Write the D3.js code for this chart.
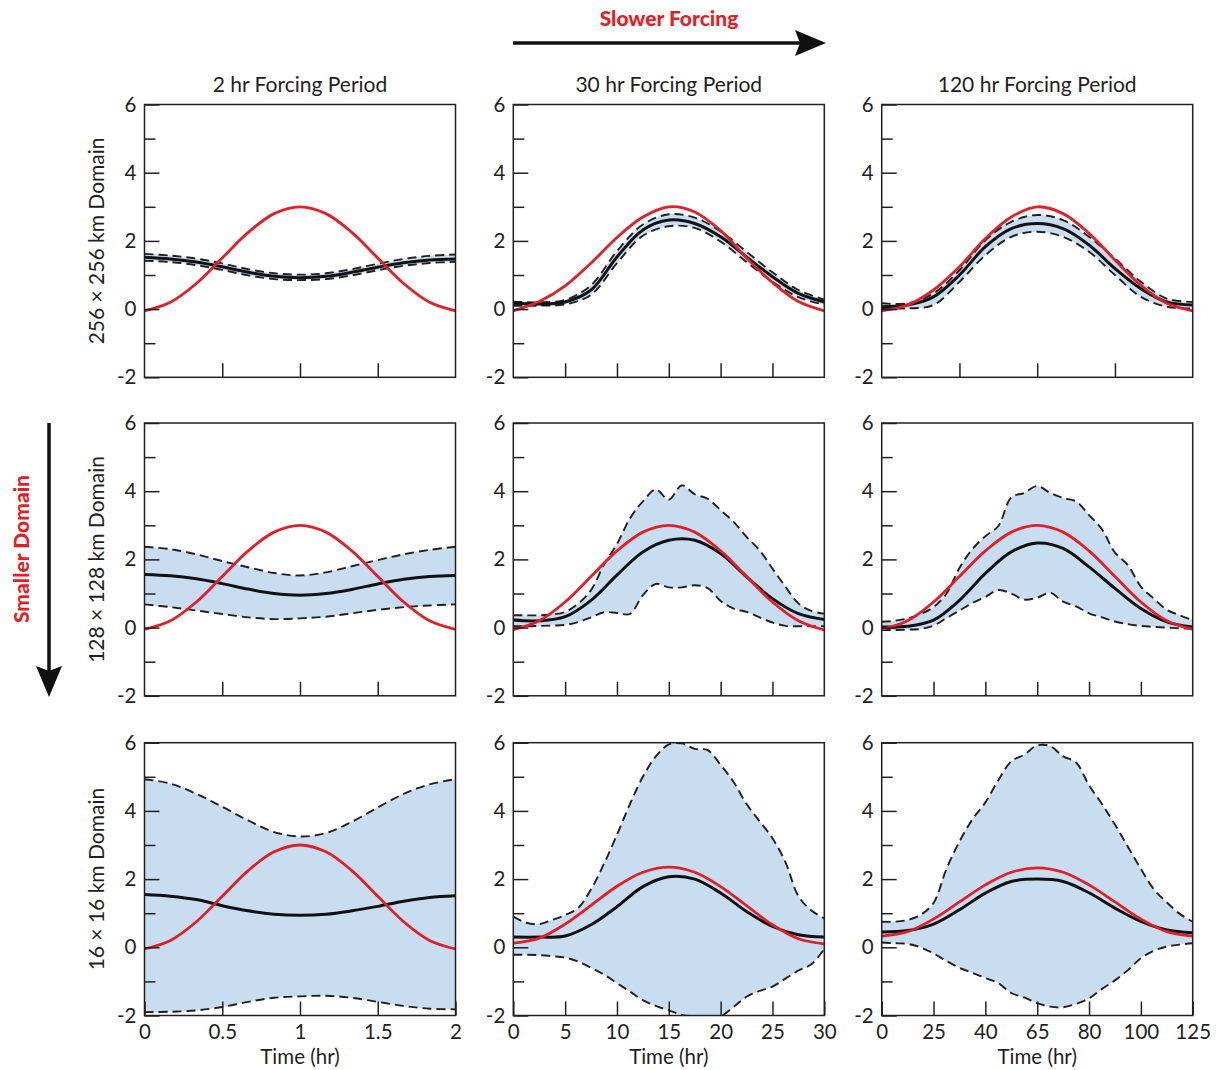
<!DOCTYPE html>
<html>
<head>
<meta charset="utf-8">
<script src="https://cdn.jsdelivr.net/npm/d3@7"></script>
<style>
  body { margin: 0; background: #fff; }
  svg text { font-family: Lato, "Open Sans", sans-serif; fill: #231f20; }
</style>
</head>
<body>
<svg id="chart" width="1218" height="1070"></svg>
<script>
// ---- labels ----
const periodTitles = ['2 hr Forcing Period', '30 hr Forcing Period', '120 hr Forcing Period'];
const domainTitles = ['256 \u00d7 256 km Domain', '128 \u00d7 128 km Domain', '16 \u00d7 16 km Domain'];
const timeMax = [2, 30, 125];
const timeTickLabels = [
  ['0', '0.5', '1', '1.5', '2'],
  ['0', '5', '10', '15', '20', '25', '30'],
  ['0', '25', '40', '65', '80', '100', '125']
];
const yTicksMajor = [-2, 0, 2, 4, 6];
const yTicksMinor = [-1, 1, 3, 5];

// ---- 256 x 256 km ----
const forcing256_2 = [-0.05, 0.2, 0.75, 1.5, 2.25, 2.8, 3.0, 2.8, 2.25, 1.5, 0.75, 0.2, -0.05];
const mean256_2 = [1.52, 1.47, 1.38, 1.24, 1.08, 0.96, 0.92, 0.96, 1.08, 1.23, 1.36, 1.44, 1.47];
const upper256_2 = [1.62, 1.57, 1.48, 1.34, 1.17, 1.05, 1.01, 1.05, 1.17, 1.33, 1.47, 1.56, 1.6];
const lower256_2 = [1.42, 1.38, 1.29, 1.15, 0.99, 0.88, 0.85, 0.88, 0.99, 1.14, 1.27, 1.35, 1.39];

const forcing256_30 = [-0.05, 0.22, 0.68, 1.35, 2.1, 2.7, 3.0, 2.85, 2.3, 1.5, 0.78, 0.22, -0.05];
const mean256_30 = [0.17, 0.15, 0.21, 0.56, 1.53, 2.32, 2.61, 2.51, 2.12, 1.53, 0.95, 0.46, 0.21];
const upper256_30 = [0.22, 0.2, 0.27, 0.7, 1.7, 2.48, 2.78, 2.68, 2.28, 1.68, 1.08, 0.56, 0.28];
const lower256_30 = [0.1, 0.1, 0.14, 0.42, 1.35, 2.15, 2.43, 2.38, 1.98, 1.38, 0.8, 0.35, 0.13];

const forcing256_120 = [-0.05, 0.12, 0.56, 1.24, 2.07, 2.7, 3.0, 2.8, 2.22, 1.44, 0.7, 0.17, -0.05];
const mean256_120 = [0.07, 0.12, 0.36, 1.0, 1.83, 2.36, 2.51, 2.36, 1.88, 1.19, 0.6, 0.21, 0.12];
const upper256_120 = [0.17, 0.17, 0.46, 1.14, 2.02, 2.56, 2.76, 2.61, 2.12, 1.48, 0.8, 0.31, 0.21];
const lower256_120 = [0.02, 0.02, 0.12, 0.8, 1.58, 2.12, 2.27, 2.12, 1.68, 1.0, 0.36, 0.07, 0.02];

// ---- 128 x 128 km ----
const forcing128_2 = [-0.05, 0.2, 0.75, 1.5, 2.25, 2.8, 3.0, 2.8, 2.25, 1.5, 0.75, 0.2, -0.05];
const mean128_2 = [1.56, 1.52, 1.43, 1.29, 1.13, 1.0, 0.95, 1.0, 1.12, 1.28, 1.42, 1.5, 1.53];
const upper128_2 = [2.37, 2.3, 2.15, 1.95, 1.77, 1.6, 1.53, 1.62, 1.8, 1.98, 2.15, 2.28, 2.37];
const lower128_2 = [0.68, 0.6, 0.5, 0.4, 0.3, 0.25, 0.27, 0.32, 0.42, 0.52, 0.6, 0.65, 0.68];

const forcing128_30 = [-0.06, 0.2, 0.75, 1.5, 2.25, 2.8, 3.0, 2.8, 2.25, 1.5, 0.75, 0.2, -0.07];
const mean128_30 = [0.22, 0.2, 0.32, 0.8, 1.54, 2.22, 2.56, 2.56, 2.17, 1.49, 0.85, 0.41, 0.24];
const upper128_30 = [0.36, 0.36, 0.36, 0.39, 0.46, 0.7, 1.1, 1.85, 2.45, 3.2, 3.7, 4.05, 3.75, 4.17,
  3.91, 3.78, 3.44, 3.1, 2.66, 2.27, 1.73, 1.2, 0.71, 0.49, 0.41];
const lower128_30 = [0.04, 0.04, 0.05, 0.06, 0.08, 0.16, 0.3, 0.45, 0.43, 0.4, 0.95, 1.28, 1.18, 1.18,
  1.24, 1.16, 0.78, 0.56, 0.46, 0.3, 0.15, 0.05, 0.04, 0.04, 0.04];

const forcing128_120 = [-0.05, 0.2, 0.75, 1.5, 2.25, 2.8, 3.0, 2.8, 2.25, 1.5, 0.75, 0.2, -0.05];
const mean128_120 = [0.02, 0.04, 0.22, 0.8, 1.59, 2.22, 2.48, 2.32, 1.78, 1.15, 0.56, 0.17, 0.02];
const upper128_120 = [0.17, 0.2, 0.27, 0.4, 0.6, 1.0, 1.75, 2.3, 2.68, 2.98, 3.82, 3.95, 4.15, 3.95,
  3.8, 3.7, 3.3, 2.88, 2.2, 1.83, 1.2, 0.85, 0.52, 0.36, 0.22];
const lower128_120 = [-0.07, -0.07, -0.06, -0.04, 0.06, 0.28, 0.5, 0.72, 0.9, 1.1, 1.0, 0.82, 0.88, 1.02,
  0.76, 0.62, 0.42, 0.3, 0.18, 0.1, 0.05, 0.02, 0.0, -0.02, -0.03];

// ---- 16 x 16 km ----
const forcing16_2 = [-0.05, 0.2, 0.75, 1.5, 2.25, 2.8, 3.0, 2.8, 2.25, 1.5, 0.75, 0.2, -0.05];
const mean16_2 = [1.55, 1.5, 1.4, 1.22, 1.07, 0.97, 0.94, 0.97, 1.07, 1.2, 1.35, 1.46, 1.51];
const upper16_2 = [4.93, 4.8, 4.5, 4.12, 3.72, 3.38, 3.25, 3.35, 3.68, 4.1, 4.5, 4.78, 4.93];
const lower16_2 = [-1.9, -1.89, -1.85, -1.75, -1.6, -1.48, -1.44, -1.42, -1.48, -1.6, -1.72, -1.8, -1.82];

const forcing16_30 = [0.12, 0.27, 0.68, 1.23, 1.79, 2.2, 2.35, 2.2, 1.78, 1.22, 0.66, 0.25, 0.1];
const mean16_30 = [0.3, 0.3, 0.33, 0.66, 1.19, 1.78, 2.07, 2.0, 1.59, 1.05, 0.61, 0.37, 0.3];
const upper16_30 = [0.9, 0.72, 0.68, 0.8, 0.95, 1.15, 1.7, 2.45, 3.3, 4.2, 5.0, 5.6, 5.95, 5.98,
  5.82, 5.78, 5.35, 4.85, 4.2, 3.7, 3.2, 2.5, 1.5, 1.08, 0.85];
const lower16_30 = [-0.22, -0.22, -0.23, -0.26, -0.3, -0.42, -0.6, -0.8, -1.05, -1.3, -1.55, -1.72, -1.85,
  -1.98, -2.02, -2.02, -2.02, -1.75, -1.45, -1.28, -1.15, -0.92, -0.68, -0.5, -0.05];

const forcing16_120 = [0.33, 0.46, 0.83, 1.33, 1.83, 2.2, 2.33, 2.2, 1.83, 1.33, 0.83, 0.46, 0.33];
const mean16_120 = [0.45, 0.49, 0.68, 1.1, 1.59, 1.93, 2.0, 1.93, 1.6, 1.15, 0.76, 0.51, 0.43];
const upper16_120 = [0.75, 0.75, 0.8, 0.95, 1.3, 2.3, 3.1, 3.75, 4.25, 4.9, 5.45, 5.65, 5.92, 5.9,
  5.6, 5.42, 4.75, 4.2, 3.6, 2.95, 2.3, 1.7, 1.32, 0.98, 0.75];
const lower16_120 = [0.14, 0.12, 0.1, 0.0, -0.18, -0.4, -0.6, -0.75, -0.9, -1.05, -1.34, -1.47, -1.64,
  -1.74, -1.76, -1.66, -1.5, -1.22, -0.97, -0.67, -0.32, -0.1, 0.02, 0.08, 0.12];

const panels = [
  { row: 0, col: 0, forcing: forcing256_2, mean: mean256_2, upper: upper256_2, lower: lower256_2 },
  { row: 0, col: 1, forcing: forcing256_30, mean: mean256_30, upper: upper256_30, lower: lower256_30 },
  { row: 0, col: 2, forcing: forcing256_120, mean: mean256_120, upper: upper256_120, lower: lower256_120, quarterTicks: true },
  { row: 1, col: 0, forcing: forcing128_2, mean: mean128_2, upper: upper128_2, lower: lower128_2 },
  { row: 1, col: 1, forcing: forcing128_30, mean: mean128_30, upper: upper128_30, lower: lower128_30 },
  { row: 1, col: 2, forcing: forcing128_120, mean: mean128_120, upper: upper128_120, lower: lower128_120 },
  { row: 2, col: 0, forcing: forcing16_2, mean: mean16_2, upper: upper16_2, lower: lower16_2 },
  { row: 2, col: 1, forcing: forcing16_30, mean: mean16_30, upper: upper16_30, lower: lower16_30 },
  { row: 2, col: 2, forcing: forcing16_120, mean: mean16_120, upper: upper16_120, lower: lower16_120 }
];

// ---- layout ----
const colX = [144.5, 513.3, 881.7];
const rowY = [104.5, 423, 742.7];
const pw = 311, ph = 272.8;
const RED = '#e41e26', INK = '#231f20', FILL = '#c8def0';

const svg = d3.select('#chart');
const defs = svg.append('defs');

panels.forEach((p, k) => {
  const x0 = colX[p.col], y0 = rowY[p.row];
  const tmax = timeMax[p.col];
  const x = d3.scaleLinear().domain([0, tmax]).range([x0, x0 + pw]);
  const y = d3.scaleLinear().domain([-2, 6]).range([y0 + ph, y0]);
  const tOf = (arr, i) => i / (arr.length - 1) * tmax;

  defs.append('clipPath').attr('id', 'clip' + k)
    .append('rect').attr('x', x0).attr('y', y0).attr('width', pw).attr('height', ph);

  const g = svg.append('g');
  const plot = g.append('g').attr('clip-path', `url(#clip${k})`);

  // spread between the dashed envelopes
  const band = p.upper.map((u, i) => ({ t: tOf(p.upper, i), hi: u, lo: p.lower[i] }));
  plot.append('path')
    .datum(band)
    .attr('fill', FILL)
    .attr('d', d3.area().curve(d3.curveCatmullRom).x(d => x(d.t)).y0(d => y(d.lo)).y1(d => y(d.hi)));

  const line = arr => d3.line().curve(d3.curveCatmullRom)
    .x((d, i) => x(tOf(arr, i))).y(d => y(d))(arr);

  [p.upper, p.lower].forEach(arr => {
    plot.append('path').attr('d', line(arr))
      .attr('fill', 'none').attr('stroke', INK)
      .attr('stroke-width', 1.9).attr('stroke-dasharray', '9,5');
  });
  plot.append('path').attr('d', line(p.mean))
    .attr('fill', 'none').attr('stroke', '#111').attr('stroke-width', 3);
  plot.append('path').attr('d', line(p.forcing))
    .attr('fill', 'none').attr('stroke', RED).attr('stroke-width', 2.8);

  // y axis, long ticks with labels on even values
  const yMajor = g.append('g').attr('transform', `translate(${x0},0)`)
    .call(d3.axisLeft(y).tickValues(yTicksMajor).tickSizeInner(-15).tickSizeOuter(0).tickPadding(8)
      .tickFormat(d => String(d)));
  const yMinor = g.append('g').attr('transform', `translate(${x0},0)`)
    .call(d3.axisLeft(y).tickValues(yTicksMinor).tickSizeInner(-11).tickSizeOuter(0).tickFormat(''));

  // x axis
  const labels = timeTickLabels[p.col];
  let tickVals = labels.map((l, i) => i / (labels.length - 1) * tmax);
  if (p.quarterTicks) tickVals = [0, 0.25, 0.5, 0.75, 1].map(f => f * tmax);
  const bottomRow = p.row === 2;
  const xAxis = d3.axisBottom(x).tickSizeInner(-14).tickSizeOuter(0).tickPadding(9)
    .tickValues(bottomRow ? tickVals : tickVals.slice(1, -1))
    .tickFormat(bottomRow ? (d, i) => labels[i] : '');
  const xg = g.append('g').attr('transform', `translate(0,${y0 + ph})`).call(xAxis);

  [yMajor, yMinor, xg].forEach(a => {
    a.select('.domain').remove();
    a.selectAll('line').attr('stroke', INK).attr('stroke-width', 1.5);
    a.selectAll('text').attr('font-size', 20.5).attr('fill', INK);
  });

  g.append('rect')
    .attr('x', x0).attr('y', y0).attr('width', pw).attr('height', ph)
    .attr('fill', 'none').attr('stroke', INK).attr('stroke-width', 1.5);

  if (bottomRow) {
    g.append('text')
      .attr('x', x0 + pw / 2).attr('y', 1064)
      .attr('text-anchor', 'middle').attr('font-size', 20.5)
      .text('Time (hr)');
  }
});

// column titles
periodTitles.forEach((t, c) => {
  svg.append('text')
    .attr('x', colX[c] + pw / 2).attr('y', 92)
    .attr('text-anchor', 'middle').attr('font-size', 21)
    .text(t);
});

// row titles
domainTitles.forEach((t, r) => {
  svg.append('text')
    .attr('transform', `translate(104,${rowY[r] + ph / 2}) rotate(-90)`)
    .attr('text-anchor', 'middle').attr('font-size', 21)
    .text(t);
});

// "Slower Forcing" arrow
svg.append('text')
  .attr('x', 669).attr('y', 26)
  .attr('text-anchor', 'middle').attr('font-size', 21).attr('font-weight', 900)
  .style('fill', RED)
  .text('Slower Forcing');
svg.append('line')
  .attr('x1', 513).attr('x2', 800).attr('y1', 43).attr('y2', 43)
  .attr('stroke', '#111').attr('stroke-width', 3.5);
svg.append('path')
  .attr('d', 'M826,43 L795,30 L800,43 L795,56 Z')
  .attr('fill', '#111');

// "Smaller Domain" arrow
svg.append('text')
  .attr('transform', 'translate(29,549) rotate(-90)')
  .attr('text-anchor', 'middle').attr('font-size', 21).attr('font-weight', 900)
  .style('fill', RED)
  .text('Smaller Domain');
svg.append('line')
  .attr('x1', 49).attr('x2', 49).attr('y1', 423).attr('y2', 672)
  .attr('stroke', '#111').attr('stroke-width', 3.5);
svg.append('path')
  .attr('d', 'M49,697 L36,666 L49,671 L62,666 Z')
  .attr('fill', '#111');
</script>
</body>
</html>
